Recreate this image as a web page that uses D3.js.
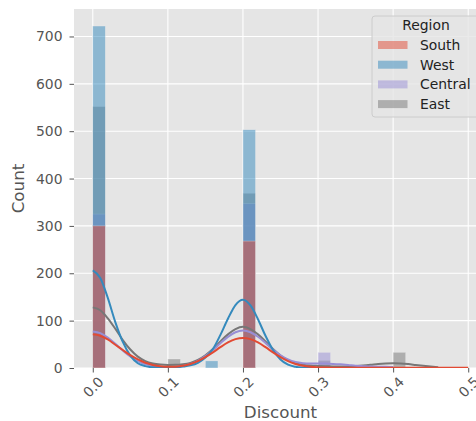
<!DOCTYPE html>
<html>
<head>
<meta charset="utf-8">
<script src="https://cdn.jsdelivr.net/npm/d3@7"></script>
<style>
  body { margin: 0; background: #fff; }
  svg { display: block; font-family: "DejaVu Sans", sans-serif; }
</style>
</head>
<body>
<div id="chart"></div>
<script>
const regions = ["South", "West", "Central", "East"]
const colors = ["#E24A33", "#348ABD", "#988ED5", "#777777"]

// histogram bins (left edges) and counts per region
const binWidth = 0.5 / 30
const binStarts = [0, 0.1, 0.15, 0.2, 0.3, 0.4]
const southCounts = [300, 0, 0, 268, 0, 0]
const westCounts = [722, 0, 15, 503, 0, 0]
const centralCounts = [325, 0, 0, 347, 33, 0]
const eastCounts = [552, 19, 0, 369, 16, 33]

// kde curves, on a 0.01 grid starting at 0
const kdeGrid = [0, 0.01, 0.02, 0.03, 0.04, 0.05, 0.06, 0.07, 0.08, 0.09,
  0.1, 0.11, 0.12, 0.13, 0.14, 0.15, 0.16, 0.17, 0.18, 0.19,
  0.2, 0.21, 0.22, 0.23, 0.24, 0.25, 0.26, 0.27, 0.28, 0.29,
  0.3, 0.31, 0.32, 0.33, 0.34, 0.35, 0.36, 0.37, 0.38, 0.39,
  0.4, 0.41, 0.42, 0.43, 0.44, 0.45, 0.46, 0.47, 0.48, 0.49, 0.5]
const southKde = [71, 68.2, 60.3, 49.2, 38, 27, 18, 11, 6.5, 3.6,
  2.4, 2.9, 4.8, 8.6, 14.6, 22.9, 33, 44, 53.9, 61,
  63.5, 61, 53.9, 44, 33, 22.9, 14.6, 8.6, 4.6, 2.4,
  1.3, 0.8, 0.6, 0.5, 0.5, 0.5, 0.5, 0.5, 0.5, 0.5,
  0.5, 0.5, 0.5, 0.5, 0.4, 0.4, 0.3, 0.3, 0.3, 0.3, 0.3]
const westKde = [206, 190, 148, 97, 55, 26, 10, 4, 1.5, 1.2,
  1.2, 1.5, 3, 5.5, 11, 22, 40, 70, 104, 133,
  144, 132, 103, 68, 38, 18, 7, 2.5, 0.8, 0.2, 0]
const centralKde = [77, 73.5, 64, 51, 37, 24.4, 14.7, 8.1, 4.2, 2.1,
  1.6, 2.2, 4.3, 8.3, 15.1, 25, 37.9, 52.3, 65.7, 75.4,
  79, 75.5, 65.9, 52.8, 38.8, 26.7, 18, 12.6, 10.2, 9.4,
  9.4, 9.3, 8.7, 7.7, 6.4, 4.9, 3.9, 3, 2.6, 2.4, 2.2]
const eastKde = [128, 122, 105, 83, 59, 39, 24, 14.5, 9.5, 7.2,
  6.5, 6.6, 7.8, 10.8, 17, 27, 40, 56, 71, 82,
  87, 82, 71, 56, 40, 26.5, 16.5, 10.2, 6.8, 5.1,
  4.4, 3.9, 3.4, 3.3, 3.4, 4.1, 5.2, 6.7, 8.4, 9.5,
  10, 9.5, 8.2, 6.4, 4.6, 3, 1.7]

const counts = [southCounts, westCounts, centralCounts, eastCounts]
const kdes = [southKde, westKde, centralKde, eastKde]

const xTicks = [0, 0.1, 0.2, 0.3, 0.4, 0.5]
const yTicks = [0, 100, 200, 300, 400, 500, 600, 700]

const width = 476
const height = 421
const margin = {top: 9, right: -11, bottom: 53, left: 74}

const svg = d3.select('#chart').append('svg')
  .attr('width', width)
  .attr('height', height)

const x = d3.scaleLinear()
  .domain([-0.025, 0.525])
  .range([margin.left, width - margin.right])

const y = d3.scaleLinear()
  .domain([0, 758])
  .range([height - margin.bottom, margin.top])

const plotW = width - margin.right - margin.left
const plotH = height - margin.bottom - margin.top

svg.append('rect')
  .attr('x', margin.left)
  .attr('y', margin.top)
  .attr('width', plotW)
  .attr('height', plotH)
  .attr('fill', '#E5E5E5')

svg.append('defs').append('clipPath')
  .attr('id', 'plot-clip')
  .append('rect')
  .attr('x', margin.left)
  .attr('y', margin.top)
  .attr('width', plotW)
  .attr('height', plotH)

// grid
svg.append('g')
  .selectAll('line')
  .data(xTicks)
  .join('line')
  .attr('x1', d => x(d)).attr('x2', d => x(d))
  .attr('y1', margin.top).attr('y2', height - margin.bottom)
  .attr('stroke', '#fff').attr('stroke-width', 1.1)

svg.append('g')
  .selectAll('line')
  .data(yTicks)
  .join('line')
  .attr('y1', d => y(d)).attr('y2', d => y(d))
  .attr('x1', margin.left).attr('x2', width - margin.right)
  .attr('stroke', '#fff').attr('stroke-width', 1.1)

const plot = svg.append('g').attr('clip-path', 'url(#plot-clip)')

// seaborn draws hue levels in reverse, so South ends up on top
const order = [3, 2, 1, 0]

order.forEach(k => {
  plot.append('g')
    .selectAll('rect')
    .data(binStarts.map((b, i) => ({ b, c: counts[k][i] })).filter(d => d.c > 0))
    .join('rect')
    .attr('x', d => x(d.b))
    .attr('y', d => y(d.c))
    .attr('width', d => x(d.b + binWidth) - x(d.b))
    .attr('height', d => y(0) - y(d.c))
    .attr('fill', colors[k])
    .attr('fill-opacity', 0.5)
    .attr('stroke', '#EEEEEE')
    .attr('stroke-opacity', 0.6)
    .attr('stroke-width', 0.5)
})

const kdeLine = d3.line()
  .x((d, i) => x(kdeGrid[i]))
  .y(d => y(d))
  .curve(d3.curveMonotoneX)

order.forEach(k => {
  plot.append('path')
    .attr('d', kdeLine(kdes[k]))
    .attr('fill', 'none')
    .attr('stroke', colors[k])
    .attr('stroke-width', 2)
    .attr('stroke-linejoin', 'round')
})

// axes
const xAxis = svg.append('g')
  .attr('transform', `translate(0,${height - margin.bottom})`)
  .call(d3.axisBottom(x).tickValues(xTicks).tickFormat(d3.format('.1f')).tickSize(4.5).tickPadding(0))
xAxis.select('.domain').remove()
xAxis.selectAll('.tick line').attr('stroke', '#555').attr('stroke-width', 1)
xAxis.selectAll('.tick text')
  .attr('fill', '#555')
  .attr('font-size', 13.9)
  .attr('font-family', 'DejaVu Sans')
  .attr('y', 0)
  .attr('dy', 0)
  .attr('text-anchor', 'middle')
  .attr('dominant-baseline', 'central')
  .attr('transform', 'translate(0,19) rotate(-45)')

const yAxis = svg.append('g')
  .attr('transform', `translate(${margin.left},0)`)
  .call(d3.axisLeft(y).tickValues(yTicks).tickSize(4.5).tickPadding(7))
yAxis.select('.domain').remove()
yAxis.selectAll('.tick line').attr('stroke', '#555').attr('stroke-width', 1)
yAxis.selectAll('.tick text')
  .attr('fill', '#555')
  .attr('font-size', 13.9)
  .attr('font-family', 'DejaVu Sans')

svg.append('text')
  .attr('x', (margin.left + width - margin.right) / 2)
  .attr('y', 418)
  .attr('text-anchor', 'middle')
  .attr('fill', '#555')
  .attr('font-size', 16.7)
  .text('Discount')

svg.append('text')
  .attr('transform', `translate(24,${(margin.top + height - margin.bottom) / 2}) rotate(-90)`)
  .attr('text-anchor', 'middle')
  .attr('fill', '#555')
  .attr('font-size', 16.7)
  .text('Count')

// legend
const legend = svg.append('g')
legend.append('rect')
  .attr('x', 372).attr('y', 16)
  .attr('width', 108).attr('height', 101)
  .attr('rx', 3)
  .attr('fill', '#E5E5E5').attr('fill-opacity', 0.8)
  .attr('stroke', '#CCCCCC').attr('stroke-width', 1)

legend.append('text')
  .attr('x', 426).attr('y', 30)
  .attr('text-anchor', 'middle')
  .attr('font-size', 13.9)
  .attr('fill', '#222')
  .text('Region')

regions.forEach((r, i) => {
  const yy = 50 + i * 19.7
  legend.append('rect')
    .attr('x', 378).attr('y', yy - 9)
    .attr('width', 29.5).attr('height', 8)
    .attr('fill', colors[i]).attr('fill-opacity', 0.5)
  legend.append('text')
    .attr('x', 420).attr('y', yy)
    .attr('font-size', 13.9)
    .attr('fill', '#222')
    .text(r)
})
</script>
</body>
</html>
